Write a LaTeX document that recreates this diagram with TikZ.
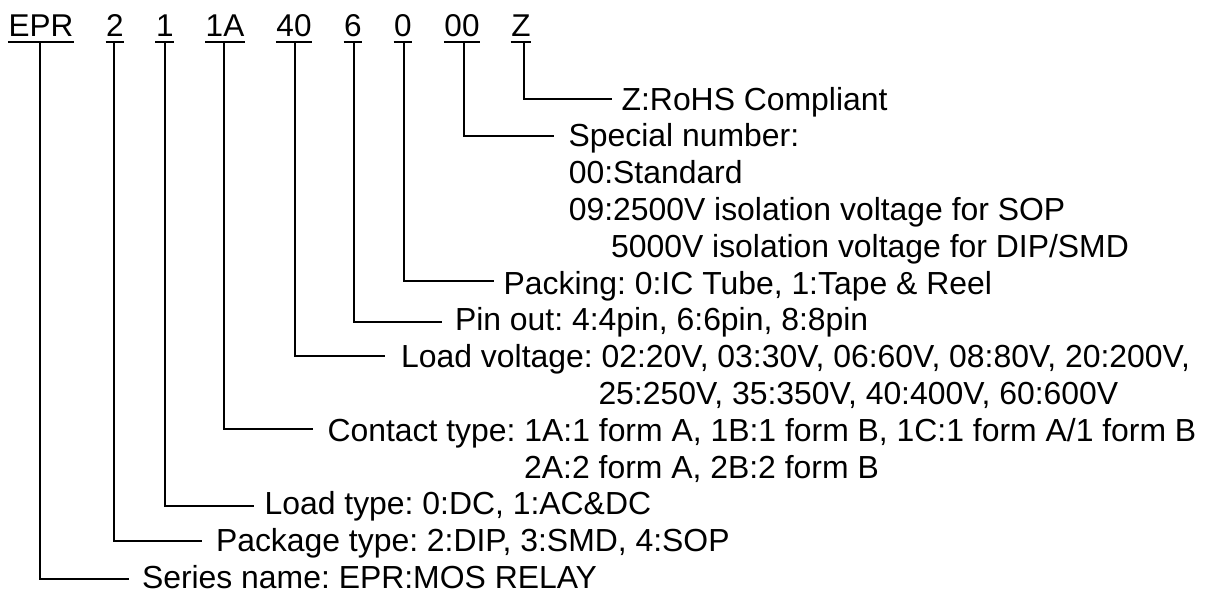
\documentclass[tikz,border=0pt]{standalone}
\usepackage{fontspec}
\setmainfont{Liberation Sans}
\frenchspacing
\begin{document}
\begin{tikzpicture}[x=1pt,y=-1pt,
  txt/.style={font=\fontsize{31.9}{36.8}\selectfont\frenchspacing, inner sep=0pt, anchor=base west, text=black},
  code/.style={font=\fontsize{31.5}{36.8}\selectfont, inner xsep=0.5pt, inner ysep=0pt, anchor=base, text=black},
  ul/.style={line width=2.4pt, black},
  conn/.style={line width=2pt, black}]
\useasboundingbox[fill=white] (0,0) rectangle (1206,592);
% code items
\node[code] (cEPR) at (41,36.7) {EPR};
\node[code] (c2) at (115,36.7) {2};
\node[code] (c1) at (164.9,36.7) {1};
\node[code] (c1A) at (225,36.7) {1A};
\node[code] (c40) at (294,36.7) {40};
\node[code] (c6) at (353,36.7) {6};
\node[code] (c0) at (403,36.7) {0};
\node[code] (c00) at (462,36.7) {00};
\node[code] (cZ) at (521,36.7) {Z};
\foreach \n in {cEPR,c2,c1,c1A,c40,c6,c0,c00,cZ}
  \draw[ul] ([yshift=-5pt]\n.base west) -- ([yshift=-5pt]\n.base east);
% labels
\node[txt] (lZ) at (621.4,110) {Z:RoHS Compliant};
\node[txt] (lSp) at (568.5,146.8) {Special number:};
\node[txt] (lSp2) at (568.6,183.6) {00:Standard};
\node[txt] (lSp3) at (568.6,220.4) {09:2500V isolation voltage for SOP};
\node[txt] (lSp4) at (610.9,257.2) {5000V isolation voltage for DIP/SMD};
\node[txt] (lPk) at (503.5,294) {Packing: 0:IC Tube, 1:Tape \& Reel};
\node[txt] (lPin) at (454.8,330.8) {Pin out: 4:4pin, 6:6pin, 8:8pin};
\node[txt] (lLV) at (401,367.6) {Load voltage: 02:20V, 03:30V, 06:60V, 08:80V, 20:200V,};
\node[txt] (lLV2) at (598.3,404.4) {25:250V, 35:350V, 40:400V, 60:600V};
\node[txt] (lCt) at (327.4,441.2) {Contact type: 1A:1 form A, 1B:1 form B, 1C:1 form A/1 form B};
\node[txt] (lCt2) at (524,478) {2A:2 form A, 2B:2 form B};
\node[txt] (lLT) at (264.4,514.8) {Load type: 0:DC, 1:AC\&DC};
\node[txt] (lPkg) at (215.8,551.6) {Package type: 2:DIP, 3:SMD, 4:SOP};
\node[txt] (lSer) at (141.8,588.4) {Series name: EPR:MOS RELAY};
% connector ends
\coordinate (eZ) at (612.3,99.3);
\coordinate (eSp) at (554,136);
\coordinate (ePk) at (494.3,281);
\coordinate (ePin) at (442.3,321.7);
\coordinate (eLV) at (385,355.7);
\coordinate (eCt) at (312.7,429.3);
\coordinate (eLT) at (254,506);
\coordinate (ePkg) at (202.3,541);
\coordinate (eSer) at (129.3,579.3);
% connectors
\draw[conn] (cZ.base) ++(3,5) |- (eZ);
\draw[conn] (c00.base) ++(2.3,5) |- (eSp);
\draw[conn] (c0.base) ++(1.3,5) |- (ePk);
\draw[conn] (c6.base) ++(0.7,5) |- (ePin);
\draw[conn] (c40.base) ++(1.3,5) |- (eLV);
\draw[conn] (c1A.base) ++(-1.3,5) |- (eCt);
\draw[conn] (c1.base) ++(0.4,5) |- (eLT);
\draw[conn] (c2.base) ++(-1,5) |- (ePkg);
\draw[conn] (cEPR.base) ++(-0.7,5) |- (eSer);
\end{tikzpicture}
\end{document}
